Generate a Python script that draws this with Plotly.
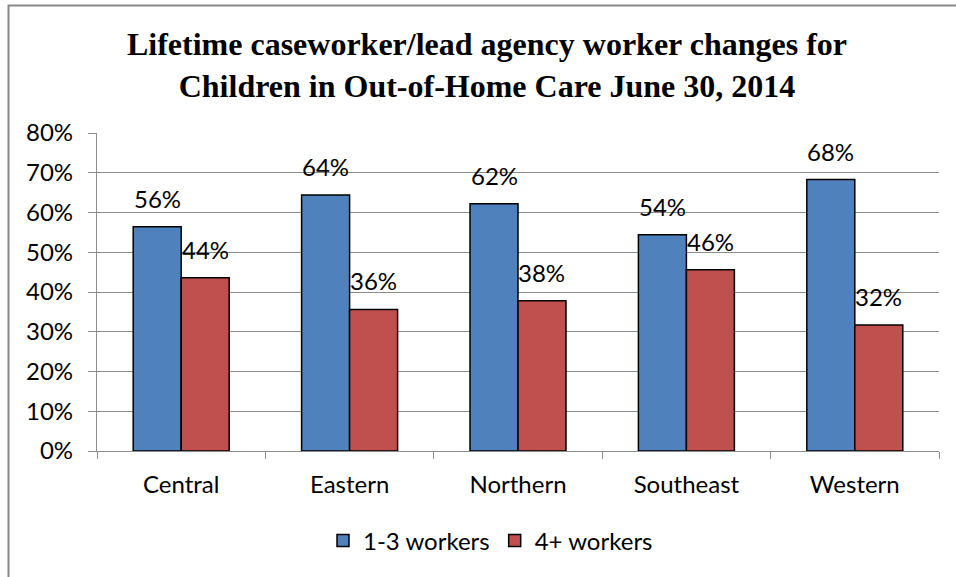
import plotly.graph_objects as go

categories = ["Central", "Eastern", "Northern", "Southeast", "Western"]
workers_1_3 = [56.4, 64.4, 62.2, 54.4, 68.3]
workers_4_plus = [43.6, 35.6, 37.8, 45.6, 31.7]
series_names = ["1-3 workers", "4+ workers"]
y_ticks = [0, 10, 20, 30, 40, 50, 60, 70, 80]
y_tick_labels = ["0%", "10%", "20%", "30%", "40%", "50%", "60%", "70%", "80%"]
title_text = "Lifetime caseworker/lead agency worker changes for<br>Children in Out-of-Home Care June 30, 2014"

W, H = 956, 577
ml, mr, mt, mb = 97, 17, 133, 126
pw, ph = W - ml - mr, H - mt - mb
bargap = 0.43

font_main = "Lato, 'Open Sans', 'DejaVu Sans', sans-serif"
colors = ["#4F81BD", "#C0504D"]

fig = go.Figure()
all_series = [workers_1_3, workers_4_plus]
for name, vals, col in zip(series_names, all_series, colors):
    fig.add_trace(go.Bar(
        x=categories, y=vals, name=name,
        marker=dict(color=col, line=dict(color="#000000", width=1.5)),
        hoverinfo="x+y",
    ))

# data labels above bars, positioned via the category axis plus a group offset
cat_px = pw / len(categories)
bar_px = cat_px * (1 - bargap) / len(all_series)
for si, vals in enumerate(all_series):
    offset = (si - (len(all_series) - 1) / 2) * bar_px
    for c, v in zip(categories, vals):
        fig.add_annotation(x=c, y=v, xref="x", yref="y", text=f"{v:.0f}%",
                           showarrow=False, xanchor="center", yanchor="bottom",
                           xshift=offset, yshift=12,
                           font=dict(family=font_main, size=24, color="#000000"))

def px_x(p):
    return (p - ml) / pw

def px_y(p):
    return (H - mb - p) / ph

fig.update_layout(
    width=W, height=H,
    margin=dict(l=ml, r=mr, t=mt, b=mb),
    paper_bgcolor="white", plot_bgcolor="white",
    barmode="group", bargap=bargap, bargroupgap=0,
    title=dict(text="<b>" + title_text + "</b>", x=487 / W, xref="container",
               xanchor="center", y=1 - 55 / H, yanchor="middle",
               font=dict(family="'Liberation Serif', 'Times New Roman', serif", size=32, color="#000000")),
    font=dict(family=font_main, size=24, color="#000000"),
    legend=dict(orientation="h", x=px_x(490.5), xanchor="center", y=px_y(541), yanchor="middle",
                font=dict(family=font_main, size=24, color="#000000"),
                itemwidth=30, tracegroupgap=0, bgcolor="rgba(0,0,0,0)"),
    showlegend=True,
)

fig.update_yaxes(
    range=[0, 80], tickvals=y_ticks, ticktext=y_tick_labels,
    showgrid=True, gridcolor="#8C8C8C", gridwidth=1.3,
    showline=True, linecolor="#8C8C8C", linewidth=1.3,
    ticks="outside", ticklen=8, tickcolor="#8C8C8C", tickwidth=1.3,
    tickfont=dict(family=font_main, size=24, color="#000000"),
    ticklabelstandoff=10, zeroline=False, fixedrange=True,
)
fig.update_xaxes(
    showgrid=False, showline=True, linecolor="#8C8C8C", linewidth=1.3,
    ticks="outside", ticklen=7, tickcolor="#8C8C8C", tickwidth=1.3,
    tickson="boundaries",
    tickfont=dict(family=font_main, size=24, color="#000000"),
    ticklabelstandoff=12, fixedrange=True,
)

fig.add_shape(type="rect", xref="paper", yref="paper",
              x0=px_x(8.5), x1=px_x(W + 20), y0=px_y(H + 20), y1=px_y(5.5),
              line=dict(color="#878787", width=2), fillcolor="rgba(0,0,0,0)", layer="below")

fig.write_html("out.html", config={"displayModeBar": False},
               post_script="document.body.style.margin='0';document.body.style.overflow='hidden';")
